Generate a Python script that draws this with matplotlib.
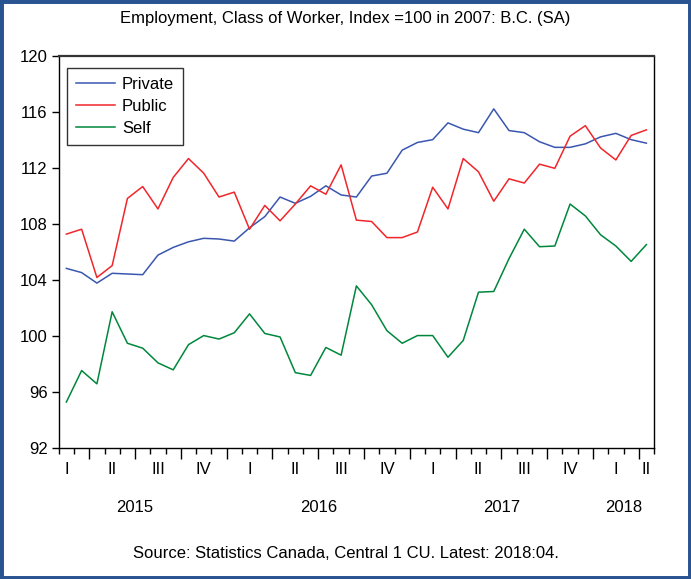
import matplotlib
matplotlib.use("Agg")
import matplotlib.pyplot as plt
import matplotlib.patches as mpatches
import matplotlib.transforms as mtransforms
from matplotlib import font_manager

# ---- data (monthly, 2015:02 .. 2018:04) ----
first_month = (2015, 2)
private = [104.8, 104.5, 103.75, 104.45, 104.4, 104.35, 105.75, 106.3, 106.7, 106.95,
           106.9, 106.75, 107.7, 108.5, 109.9, 109.45, 109.95, 110.7, 110.05, 109.9,
           111.4, 111.6, 113.25, 113.8, 114.0, 115.2, 114.75, 114.5, 116.2, 114.65,
           114.5, 113.85, 113.45, 113.45, 113.7, 114.2, 114.45, 114.0, 113.75]
public = [107.25, 107.6, 104.15, 105.0, 109.8, 110.65, 109.05, 111.3, 112.65, 111.6,
          109.9, 110.25, 107.6, 109.3, 108.2, 109.4, 110.7, 110.1, 112.2, 108.25,
          108.15, 107.0, 107.0, 107.4, 110.6, 109.05, 112.65, 111.7, 109.6, 111.2,
          110.9, 112.25, 111.95, 114.25, 115.0, 113.4, 112.55, 114.3, 114.7]
self_emp = [95.25, 97.5, 96.55, 101.7, 99.45, 99.1, 98.05, 97.55, 99.35, 100.0,
            99.75, 100.2, 101.55, 100.15, 99.9, 97.35, 97.15, 99.15, 98.6, 103.55,
            102.2, 100.35, 99.45, 100.0, 100.0, 98.45, 99.65, 103.1, 103.15, 105.5,
            107.6, 106.35, 106.4, 109.4, 108.55, 107.2, 106.4, 105.3, 106.5]
series_names = ["Private", "Public", "Self"]
quarter_labels = ["I", "II", "III", "IV"]
years = [2015, 2016, 2017, 2018]
y_ticks = [92, 96, 100, 104, 108, 112, 116, 120]

title = "Employment, Class of Worker, Index =100 in 2007: B.C. (SA)"
source = "Source: Statistics Canada, Central 1 CU. Latest: 2018:04."

colors = ["#3A57B0", "#F0262B", "#00873C"]

avail = {f.name for f in font_manager.fontManager.ttflist}
fam = "Liberation Sans Narrow" if "Liberation Sans Narrow" in avail else "Liberation Sans"
plt.rcParams["font.family"] = [fam, "DejaVu Sans"]

fig = plt.figure(figsize=(6.91, 5.79), dpi=100)
ax = fig.add_axes([0.085, 0.2271, 0.8615, 0.6767])

n = len(private)
x = list(range(n))
for vals, name, c in zip([private, public, self_emp], series_names, colors):
    ax.plot(x, vals, color=c, lw=1.1, label=name)

xmin, xmax = -0.5, n - 0.5
ax.set_xlim(xmin, xmax)
ax.set_ylim(92, 120)
ax.set_yticks(y_ticks)
ax.set_yticklabels([str(v) for v in y_ticks], fontsize=12)
ax.tick_params(axis="y", direction="out", length=5, width=1, pad=3)

# month index helper: months since Jan 2015 -> x position
def mx(months_since_2015):
    return months_since_2015 - ((first_month[0] - 2015) * 12 + first_month[1] - 1)

# minor ticks at month boundaries, major at quarter boundaries
minor = [k - 0.5 for k in range(n + 1)]
major = []
for y in years:
    for q in range(4):
        b = mx((y - 2015) * 12 + 3 * q) - 0.5
        if xmin - 1e-6 <= b <= xmax + 1e-6:
            major.append(b)
ax.set_xticks(major)
ax.set_xticks([m for m in minor if all(abs(m - M) > 1e-6 for M in major)], minor=True)
ax.set_xticklabels([])
ax.tick_params(axis="x", which="major", direction="out", length=8, width=1)
ax.tick_params(axis="x", which="minor", direction="out", length=4, width=1)

trans = mtransforms.blended_transform_factory(ax.transData, ax.transAxes)

def label_pos(a, b):
    c = (a + b) / 2
    if c < xmin or c > xmax:
        c = (max(a, xmin) + min(b, xmax)) / 2
    return c

for y in years:
    for q in range(4):
        a = mx((y - 2015) * 12 + 3 * q) - 0.5
        b = a + 3
        if b <= xmin or a >= xmax:
            continue
        ax.text(label_pos(a, b), -0.056, quarter_labels[q], transform=trans,
                ha="center", va="center", fontsize=12)
    a = mx((y - 2015) * 12) - 0.5
    b = a + 12
    ax.text(label_pos(a, b), -0.153, str(y), transform=trans,
            ha="center", va="center", fontsize=12)

for s in ax.spines.values():
    s.set_linewidth(1.0)
    s.set_color("black")
ax.spines["top"].set_linewidth(1.6)
ax.spines["top"].set_color("#333333")

leg = ax.legend(loc="upper left", bbox_to_anchor=(0.014, 0.969), fontsize=12,
                frameon=True, fancybox=False, edgecolor="black", handlelength=2.35,
                handletextpad=0.4, labelspacing=0.42, borderpad=0.55, borderaxespad=0)
leg.get_frame().set_linewidth(1.0)

fig.text(0.5, 1 - 18 / 579, title, ha="center", va="center", fontsize=12)
fig.text(0.5, 1 - 553 / 579, source, ha="center", va="center", fontsize=12)

border = mpatches.Rectangle((0, 0), 1, 1, transform=fig.transFigure, fill=False,
                            lw=5, edgecolor="#2A5391")
fig.patches.append(border)

fig.savefig("out.png", dpi=100)
